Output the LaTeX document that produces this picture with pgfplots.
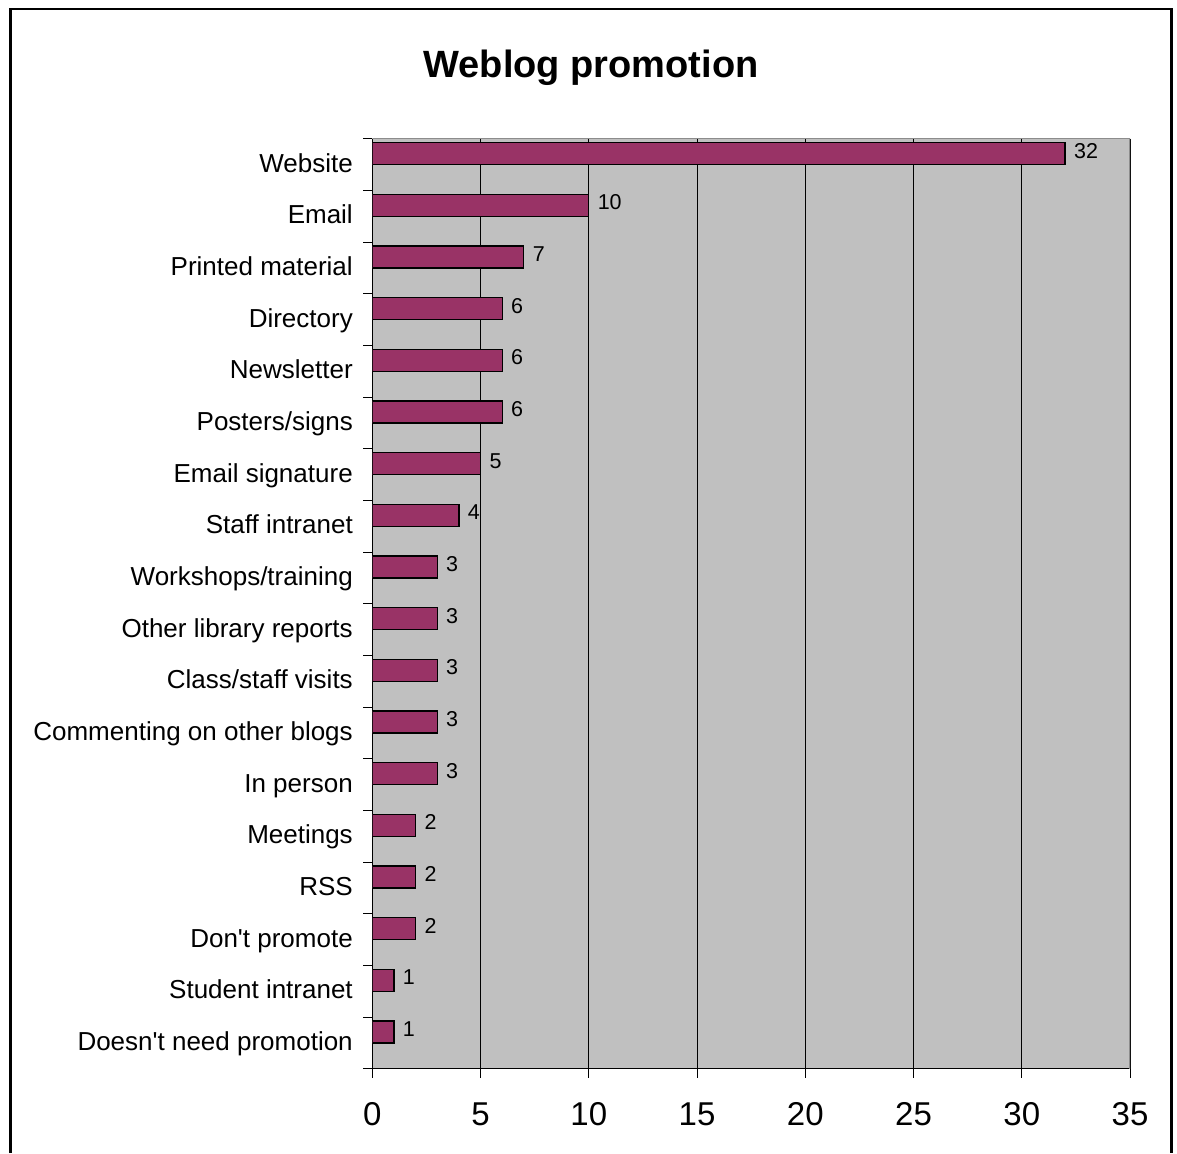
\documentclass[border=0pt]{standalone}
\usepackage{pgfplots}
\pgfplotsset{compat=1.18}
\usepackage{fontspec}
\setmainfont{Liberation Sans}
\newfontfamily\arial{Liberation Sans}
\definecolor{barc}{HTML}{993366}
\definecolor{plotbg}{HTML}{C0C0C0}
\definecolor{bordergray}{HTML}{8C8C8C}
\begin{document}
\begin{tikzpicture}
\useasboundingbox (0pt,0pt) rectangle (1177pt,1153pt);
\fill[white] (0pt,0pt) rectangle (1177pt,1153pt);
\draw[line width=2.5pt] (10.5pt,0pt) -- (10.5pt,1144pt) -- (1171.5pt,1144pt) -- (1171.5pt,0pt);
\node[font=\arial\fontsize{38}{44}\selectfont\bfseries] at (591pt,1085pt) {Weblog promotion};
\begin{axis}[
  at={(372.3pt,84.3pt)}, anchor=south west,
  scale only axis, width=757.7pt, height=930pt,
  xmin=0, xmax=35, ymin=-0.5, ymax=17.5,
  axis x line*=bottom, axis y line*=left,
  axis line style={black, line width=1.3pt},
  axis background/.style={fill=plotbg},
  /pgf/number format/assume math mode=true,
  xtick={0,5,...,35},
  xticklabel style={font=\arial\fontsize{33}{36}\selectfont, anchor=base, yshift=-48pt},
  ytick={-0.5,0.5,...,17.5}, yticklabels={},
  tick align=outside, major tick length=9pt,
  tick style={black, line width=1pt},
  xmajorgrids, major grid style={black, line width=0.9pt},
  extra y ticks={0,...,17},
  extra y tick labels={Doesn't need promotion, Student intranet, Don't promote, RSS, Meetings, In person, Commenting on other blogs, Class/staff visits, Other library reports, Workshops/training, Staff intranet, Email signature, Posters/signs, Newsletter, Directory, Printed material, Email, Website},
  extra y tick style={tick style={draw=none}, yticklabel style={font=\arial\fontsize{26}{30}\selectfont, text height=0.72em, text depth=0.21em, xshift=-7pt, yshift=-5pt}},
]
\addplot[xbar, fill=barc, draw=black, line width=1.3pt, bar width=0.43, bar shift=0.21,
  nodes near coords, nodes near coords style={font=\arial\fontsize{21.5}{24}\selectfont, text height=0.72em, text depth=0.21em, anchor=west, black, xshift=5pt, yshift=9pt}]
coordinates {
(32,17) (10,16) (7,15) (6,14) (6,13) (6,12) (5,11) (4,10) (3,9) (3,8) (3,7) (3,6) (3,5) (2,4) (2,3) (2,2) (1,1) (1,0)
};
\draw[bordergray, line width=1.3pt] (rel axis cs:0,1) -- (rel axis cs:1,1) -- (rel axis cs:1,0);
\end{axis}
\end{tikzpicture}
\end{document}
